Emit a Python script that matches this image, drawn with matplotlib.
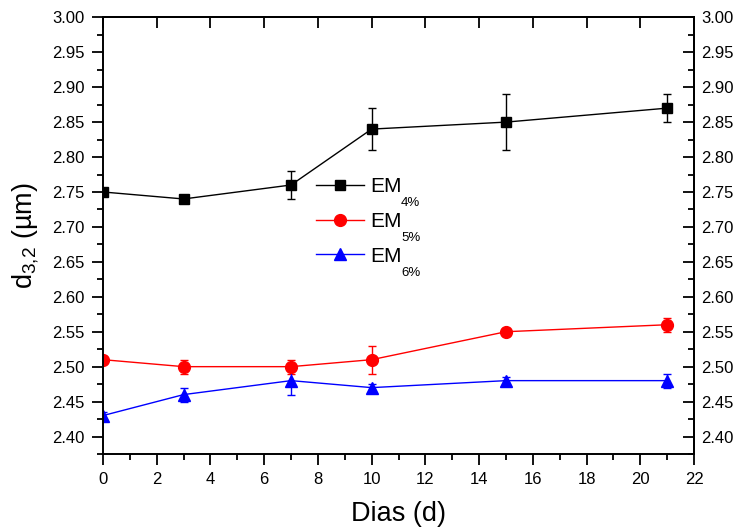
import matplotlib
matplotlib.use("Agg")
import matplotlib.pyplot as plt
from matplotlib.lines import Line2D
from matplotlib.ticker import MultipleLocator, FormatStrFormatter

plt.rcParams['font.family'] = ['Liberation Sans', 'DejaVu Sans']
plt.rcParams['mathtext.fontset'] = 'custom'
plt.rcParams['mathtext.rm'] = 'Liberation Sans'
plt.rcParams['mathtext.it'] = 'Liberation Sans:italic'
plt.rcParams['mathtext.bf'] = 'Liberation Sans:bold'

days = [0, 3, 7, 10, 15, 21]
em4 = [2.75, 2.74, 2.76, 2.84, 2.85, 2.87]
em4_err = [0.005, 0.005, 0.02, 0.03, 0.04, 0.02]
em5 = [2.51, 2.50, 2.50, 2.51, 2.55, 2.56]
em5_err = [0.005, 0.01, 0.01, 0.02, 0.005, 0.01]
em6 = [2.43, 2.46, 2.48, 2.47, 2.48, 2.48]
em6_err = [0.005, 0.01, 0.02, 0.005, 0.005, 0.01]
label_main = 'EM'
label_subs = ['4%', '5%', '6%']

W, H = 740, 531
fig = plt.figure(figsize=(W/100, H/100), dpi=100)
ax = fig.add_axes([103/W, 1 - 454/H, (694-103)/W, (454-17.3)/H])

series = [(em4, em4_err, 'black', 's', 7.5), (em5, em5_err, '#ff0000', 'o', 8.5),
          (em6, em6_err, '#0000ff', '^', 8.5)]
handles = []
for (y, e, c, m, ms) in series:
    ax.errorbar(days, y, yerr=e, color=c, marker=m, markersize=ms, lw=1.0,
                elinewidth=1.0, capsize=3, capthick=1.0)
    handles.append(Line2D([], [], color=c, marker=m, markersize=ms, lw=1.0))

ax.set_xlim(0, 22)
ax.set_ylim(2.375, 3.0)
ax.xaxis.set_major_locator(MultipleLocator(2))
ax.xaxis.set_minor_locator(MultipleLocator(1))
ax.yaxis.set_major_locator(MultipleLocator(0.05))
ax.yaxis.set_minor_locator(MultipleLocator(0.025))
ax.yaxis.set_major_formatter(FormatStrFormatter('%.2f'))
ax.tick_params(which='both', direction='out', width=1.3, labelsize=12)
ax.tick_params(which='major', length=8, pad=5)
ax.tick_params(which='minor', length=4)
for s in ax.spines.values():
    s.set_linewidth(1.4)

axr = ax.secondary_yaxis('right')
axr.yaxis.set_major_locator(MultipleLocator(0.05))
axr.yaxis.set_minor_locator(MultipleLocator(0.025))
axr.yaxis.set_major_formatter(FormatStrFormatter('%.2f'))
axr.tick_params(which='both', direction='in', width=1.3, labelsize=12)
axr.tick_params(which='major', length=8, pad=5)
axr.tick_params(which='minor', length=4)
axr.spines['right'].set_linewidth(1.4)

axt = ax.secondary_xaxis('top')
axt.xaxis.set_major_locator(MultipleLocator(2))
axt.tick_params(which='both', direction='in', width=1.3, labeltop=False, length=8)
axt.spines['top'].set_linewidth(1.4)

ax.set_xlabel('Dias (d)', fontsize=19.5, labelpad=10)
ax.set_ylabel(r'd$_\mathregular{3{,}2}$ (µm)', fontsize=19.5, labelpad=8)

leg = ax.legend(handles=handles, labels=[label_main]*3, loc='upper left',
                bbox_to_anchor=(316/W, 1 - 177/H), bbox_transform=fig.transFigure,
                frameon=False, fontsize=15, handlelength=2.3, handletextpad=0.32,
                labelspacing=0.76, borderpad=0, borderaxespad=0)

fig.canvas.draw()
renderer = fig.canvas.get_renderer()
for txt, sub in zip(leg.get_texts(), label_subs):
    bb = txt.get_window_extent(renderer)
    _, _, desc = renderer.get_text_width_height_descent('EM', txt.get_fontproperties(), ismath=False)
    baseline = bb.y0 + desc
    fig.text((bb.x1 - 1)/W, (baseline - 1)/H, sub, fontsize=9.5,
             ha='left', va='top')

fig.savefig('out.png', dpi=100)
